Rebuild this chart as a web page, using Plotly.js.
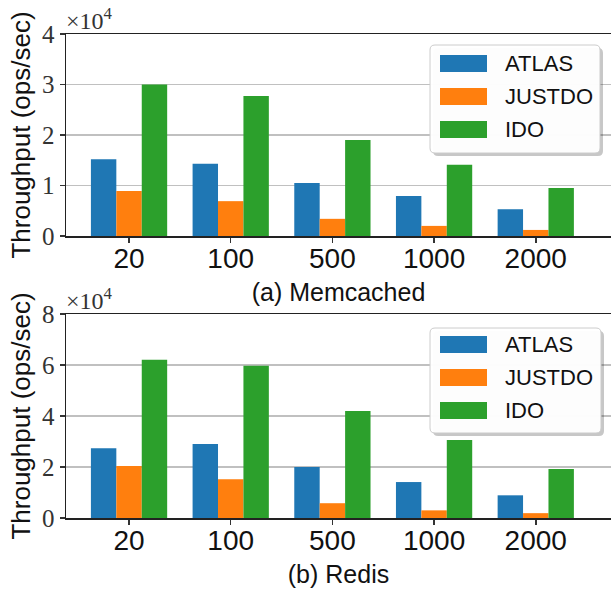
<!DOCTYPE html>
<html>
<head>
<meta charset="utf-8">
<script src="https://cdn.plot.ly/plotly-3.0.1.min.js"></script>
<style>html,body{margin:0;padding:0;background:#fff;}#chart{width:611px;height:593px;}</style>
</head>
<body>
<div id="chart"></div>
<script>
// ---- data ----
const categories = ['20', '100', '500', '1000', '2000'];
const seriesNames = ['ATLAS', 'JUSTDO', 'IDO'];
const memcachedAtlas = [15200, 14300, 10500, 7900, 5300];
const memcachedJustdo = [8900, 6900, 3400, 2000, 1200];
const memcachedIdo = [30000, 27700, 19000, 14100, 9500];
const redisAtlas = [27400, 29000, 20000, 14100, 8900];
const redisJustdo = [20400, 15200, 5800, 3000, 1900];
const redisIdo = [62100, 59700, 42000, 30600, 19200];
const memcachedTickVals = [0, 10000, 20000, 30000, 40000];
const memcachedTickText = ['0', '1', '2', '3', '4'];
const redisTickVals = [0, 20000, 40000, 60000, 80000];
const redisTickText = ['0', '2', '4', '6', '8'];
const panelTitles = ['(a) Memcached', '(b) Redis'];
const yTitle = 'Throughput (ops/sec)';
const multiplierText = '×10<sup>4</sup>';

// ---- styling ----
const colors = ['#1f77b4', '#ff7f0e', '#2ca02c'];
const SANS = 'Liberation Sans, Arial, sans-serif';
const SERIF = 'Liberation Serif, Times New Roman, serif';
const W = 611, H = 593, ML = 66, MR = 0, MT = 34, MB = 75;
const PW = W - ML - MR, PH = H - MT - MB;
const px = x => (x - ML) / PW;
const py = y => (H - MB - y) / PH;

const memSeries = [memcachedAtlas, memcachedJustdo, memcachedIdo];
const redisSeries = [redisAtlas, redisJustdo, redisIdo];

const traces = [];
memSeries.forEach((vals, i) => traces.push({
  type: 'bar', x: categories, y: vals, name: seriesNames[i],
  marker: {color: colors[i], line: {width: 0}}, xaxis: 'x', yaxis: 'y',
  showlegend: false, hoverinfo: 'none'
}));
redisSeries.forEach((vals, i) => traces.push({
  type: 'bar', x: categories, y: vals, name: seriesNames[i],
  marker: {color: colors[i], line: {width: 0}}, xaxis: 'x2', yaxis: 'y2',
  showlegend: false, hoverinfo: 'none'
}));

const xCommon = {
  type: 'category', range: [-0.62, 4.74], showline: true, linecolor: '#222', linewidth: 1.5,
  mirror: true, ticks: 'outside', ticklen: 5, tickwidth: 1.5, tickcolor: '#333',
  tickfont: {family: SANS, size: 28, color: '#111'}, showgrid: false, zeroline: false,
  automargin: false, ticklabelstandoff: -8
};
const yCommon = {
  showline: true, linecolor: '#222', linewidth: 1.5, mirror: false,
  ticks: 'outside', ticklen: 5, tickwidth: 1.5, tickcolor: '#333',
  tickfont: {family: SERIF, size: 25, color: '#333'}, showgrid: true,
  gridcolor: '#c0c0c0', gridwidth: 1.5, zeroline: false, automargin: false,
  title: {text: yTitle, font: {family: SANS, size: 26, color: '#111'}, standoff: 4}
};

const layout = {
  width: W, height: H,
  margin: {l: ML, r: MR, t: MT, b: MB, pad: 0},
  paper_bgcolor: '#fff', plot_bgcolor: '#fff',
  barmode: 'group', bargap: 0.25, bargroupgap: 0,
  showlegend: false,
  xaxis: Object.assign({}, xCommon, {anchor: 'y', domain: [0, 1],
    title: {text: panelTitles[0], font: {family: SANS, size: 25, color: '#111'}, standoff: 10}}),
  xaxis2: Object.assign({}, xCommon, {anchor: 'y2', domain: [0, 1],
    title: {text: panelTitles[1], font: {family: SANS, size: 25, color: '#111'}, standoff: 10}}),
  yaxis: Object.assign({}, yCommon, {anchor: 'x', domain: [py(236), 1], range: [0, 40000],
    tickvals: memcachedTickVals, ticktext: memcachedTickText}),
  yaxis2: Object.assign({}, yCommon, {anchor: 'x2', domain: [0, py(314)], range: [0, 80000],
    tickvals: redisTickVals, ticktext: redisTickText}),
  shapes: [], annotations: []
};

function roundRect(x0, y0, x1, y1, r) {
  const X = v => px(v).toFixed(5), Y = v => py(v).toFixed(5);
  return `M${X(x0 + r)},${Y(y0)} L${X(x1 - r)},${Y(y0)} Q${X(x1)},${Y(y0)} ${X(x1)},${Y(y0 + r)} ` +
    `L${X(x1)},${Y(y1 - r)} Q${X(x1)},${Y(y1)} ${X(x1 - r)},${Y(y1)} L${X(x0 + r)},${Y(y1)} ` +
    `Q${X(x0)},${Y(y1)} ${X(x0)},${Y(y1 - r)} L${X(x0)},${Y(y0 + r)} Q${X(x0)},${Y(y0)} ${X(x0 + r)},${Y(y0)} Z`;
}

// legend boxes (pixel geometry) for each panel
const legendBoxes = [
  {x0: 430, y0: 45, x1: 600, y1: 153, rows: [63.5, 96.5, 129.5]},
  {x0: 430, y0: 328, x1: 601, y1: 433, rows: [344.5, 377.5, 410.5]}
];
legendBoxes.forEach(b => {
  layout.shapes.push({type: 'path', xref: 'paper', yref: 'paper',
    path: roundRect(b.x0 + 3, b.y0 + 3, b.x1 + 3, b.y1 + 3, 5),
    fillcolor: 'rgba(0,0,0,0.22)', line: {width: 0}});
  layout.shapes.push({type: 'path', xref: 'paper', yref: 'paper',
    path: roundRect(b.x0, b.y0, b.x1, b.y1, 5),
    fillcolor: 'rgba(255,255,255,0.97)', line: {color: '#cccccc', width: 1}});
  b.rows.forEach((cy, i) => {
    layout.shapes.push({type: 'rect', xref: 'paper', yref: 'paper',
      x0: px(440), x1: px(487), y0: py(cy - 8.5), y1: py(cy + 8.5),
      fillcolor: colors[i], line: {width: 0}});
    layout.annotations.push({xref: 'paper', yref: 'paper', x: px(503), y: py(cy),
      xanchor: 'left', yanchor: 'middle', showarrow: false, text: seriesNames[i],
      font: {family: SANS, size: 22, color: '#111'}});
  });
});

// multiplier labels
[[36], [316]].forEach(([by]) => {
  layout.annotations.push({xref: 'paper', yref: 'paper', x: px(64), y: py(by),
    xanchor: 'left', yanchor: 'bottom', showarrow: false, text: multiplierText,
    font: {family: SERIF, size: 24, color: '#333'}});
});

Plotly.newPlot('chart', traces, layout, {staticPlot: true, displayModeBar: false});
</script>
</body>
</html>
